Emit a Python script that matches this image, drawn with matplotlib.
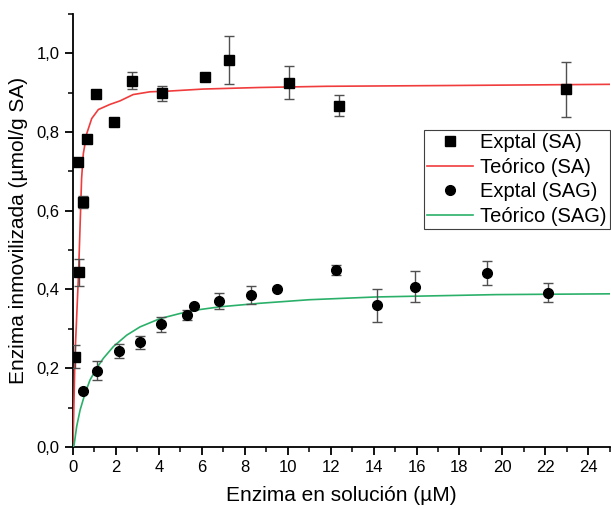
import matplotlib
matplotlib.use("Agg")
import matplotlib.pyplot as plt
from matplotlib.ticker import MultipleLocator, FuncFormatter

plt.rcParams['font.family'] = ['Liberation Sans', 'DejaVu Sans']

# Experimental data (SA)
sa_x = [0.09, 0.25, 0.28, 0.45, 0.67, 1.07, 1.92, 2.73, 4.15, 6.15, 7.27, 10.06, 12.39, 22.98]
sa_y = [0.229, 0.724, 0.444, 0.622, 0.782, 0.897, 0.825, 0.930, 0.898, 0.939, 0.983, 0.925, 0.867, 0.908]
sa_err = [0.029, 0.0, 0.034, 0.016, 0.0, 0.0, 0.0, 0.022, 0.020, 0.0, 0.062, 0.042, 0.027, 0.069]

# Experimental data (SAG)
sag_x = [0.45, 1.13, 2.15, 3.10, 4.12, 5.30, 5.63, 6.78, 8.28, 9.50, 12.23, 14.14, 15.92, 19.27, 22.14]
sag_y = [0.142, 0.194, 0.244, 0.266, 0.312, 0.336, 0.359, 0.371, 0.386, 0.402, 0.449, 0.360, 0.407, 0.442, 0.392]
sag_err = [0.0, 0.025, 0.018, 0.016, 0.019, 0.013, 0.0, 0.021, 0.022, 0.0, 0.013, 0.042, 0.039, 0.031, 0.024]

# Theoretical curves
tsa_x = [0.0, 0.09, 0.26, 0.40, 0.48, 0.64, 0.87, 1.18, 1.72, 2.19, 2.80, 3.58, 4.51, 6.06, 8.7, 11.8, 17.5, 25.0]
tsa_y = [0.0, 0.229, 0.444, 0.682, 0.745, 0.796, 0.834, 0.857, 0.870, 0.879, 0.895, 0.902, 0.904, 0.909, 0.913, 0.916, 0.918, 0.921]

tsag_x = [0.0, 0.05, 0.17, 0.33, 0.56, 0.79, 1.10, 1.41, 1.88, 2.5, 3.12, 4.05, 4.98, 5.9, 6.84, 8.7, 11.0, 14.1, 19.7, 25.0]
tsag_y = [0.0, 0.005, 0.052, 0.094, 0.136, 0.170, 0.200, 0.225, 0.255, 0.284, 0.305, 0.326, 0.339, 0.349, 0.356, 0.365, 0.374, 0.381, 0.387, 0.389]

fig = plt.figure(figsize=(6.11, 5.09), dpi=100)
ax = fig.add_axes([0.1195, 0.1218, 0.8785, 0.851])

red = '#f03c3c'
green = '#2bb06a'
ecol = '#505050'

ax.plot(tsa_x, tsa_y, color=red, lw=1.2, label='Teórico (SA)', zorder=3)
ax.plot(tsag_x, tsag_y, color=green, lw=1.2, label='Teórico (SAG)', zorder=3)

ax.errorbar(sa_x, sa_y, yerr=sa_err, fmt='s', color='black', ms=6.5,
            ecolor=ecol, elinewidth=1.0, capsize=3.5, capthick=1.0,
            label='Exptal (SA)', zorder=4)
ax.errorbar(sag_x, sag_y, yerr=sag_err, fmt='o', color='black', ms=7,
            ecolor=ecol, elinewidth=1.0, capsize=3.5, capthick=1.0,
            label='Exptal (SAG)', zorder=4)

ax.set_xlim(0, 25)
ax.set_ylim(0, 1.1)
ax.xaxis.set_major_locator(MultipleLocator(2))
ax.xaxis.set_minor_locator(MultipleLocator(1))
ax.yaxis.set_major_locator(MultipleLocator(0.2))
ax.yaxis.set_minor_locator(MultipleLocator(0.1))
ax.yaxis.set_major_formatter(FuncFormatter(lambda v, p: f"{v:.1f}".replace('.', ',')))

for s in ['top', 'right']:
    ax.spines[s].set_visible(False)
for s in ['left', 'bottom']:
    ax.spines[s].set_linewidth(1.3)

ax.tick_params(which='major', direction='out', length=6, width=1.3, labelsize=12)
ax.tick_params(which='minor', direction='out', length=3.5, width=1.1)

ax.set_xlabel('Enzima en solución (µM)', fontsize=15, labelpad=8)
ax.set_ylabel('Enzima inmovilizada (µmol/g SA)', fontsize=15, labelpad=6)

handles, labels = ax.get_legend_handles_labels()
order = [labels.index(l) for l in ['Exptal (SA)', 'Teórico (SA)', 'Exptal (SAG)', 'Teórico (SAG)']]
hs = []
for i in order:
    h = handles[i]
    if hasattr(h, 'lines'):
        h = h[0]
    hs.append(h)
leg = ax.legend(hs, [labels[i] for i in order], loc='upper right',
                bbox_to_anchor=(1.0, 0.732), prop={'size': 14.5}, frameon=True,
                fancybox=False, edgecolor='#404040', framealpha=1,
                borderpad=0.15, labelspacing=0.28, handlelength=2.3,
                handletextpad=0.35, borderaxespad=0.0)
leg.get_frame().set_linewidth(0.8)

fig.savefig('out.png', dpi=100)
